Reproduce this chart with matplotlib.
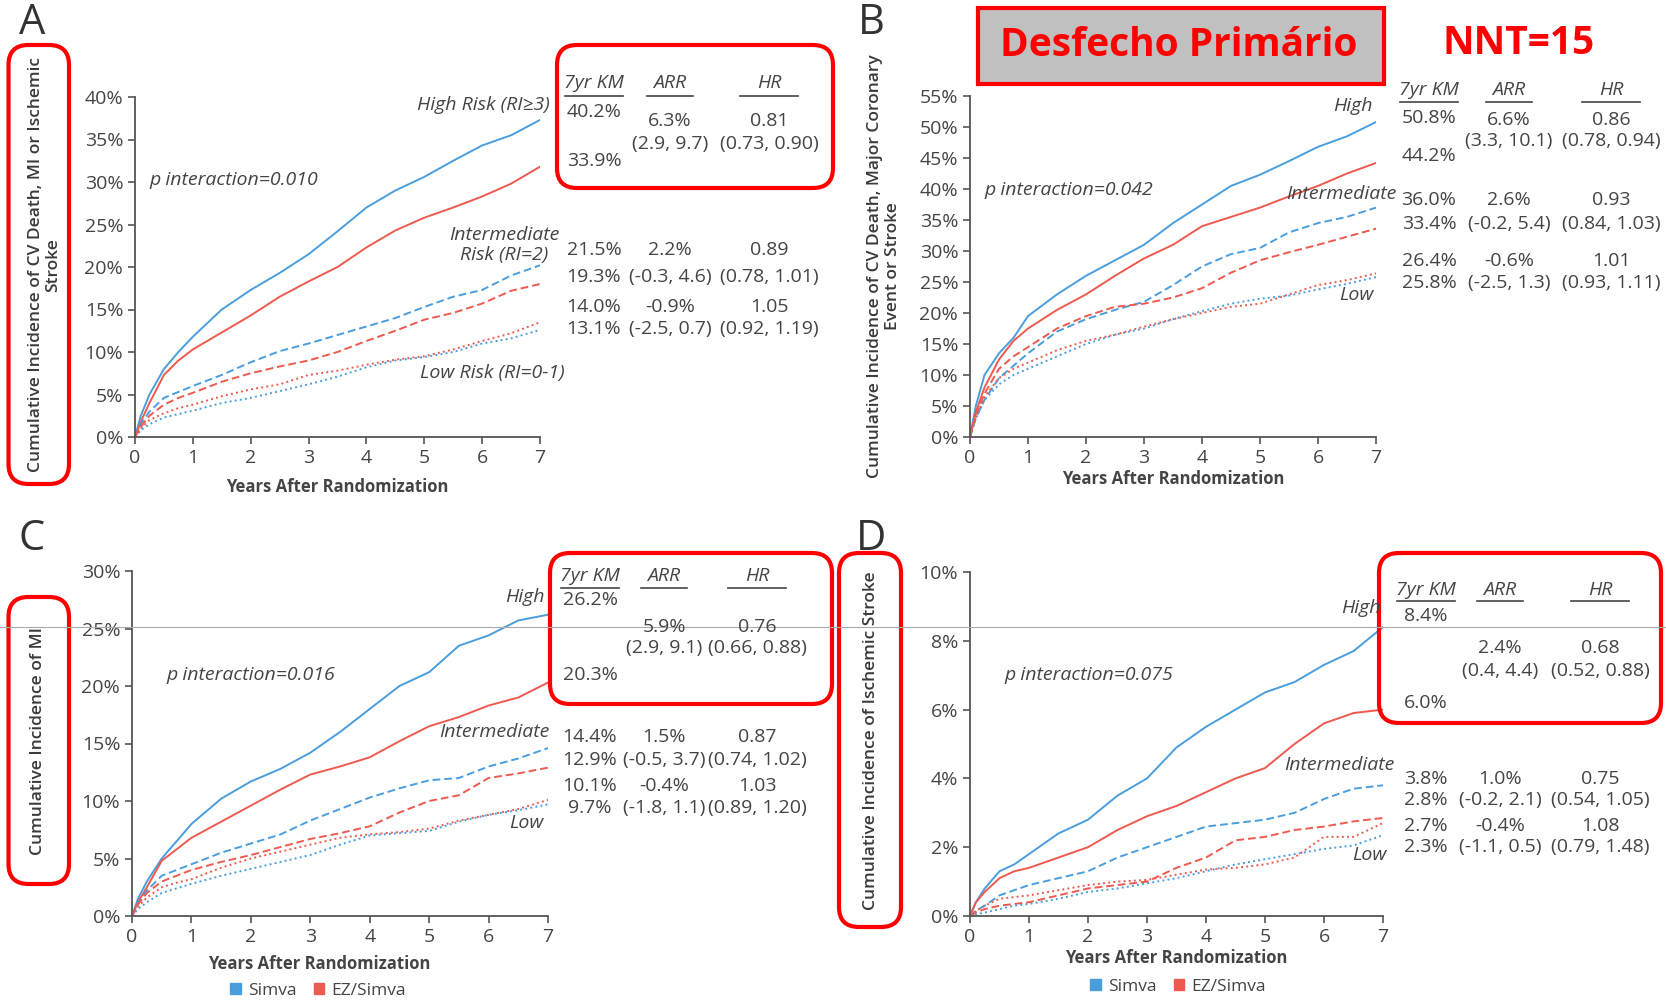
import numpy as np
import matplotlib
matplotlib.use("Agg")
import matplotlib.pyplot as plt
from matplotlib.patches import FancyBboxPatch, Rectangle, Patch
from matplotlib.lines import Line2D

plt.rcParams['font.family'] = ['Open Sans', 'DejaVu Sans']

W, H = 1666, 1002
BLUE = '#4a9ede'
RED = '#ee5a4f'
TXT = '#444444'

# years after randomization
t = [0, 0.1, 0.25, 0.5, 0.75, 1, 1.5, 2, 2.5, 3, 3.5, 4, 4.5, 5, 5.5, 6, 6.5, 7]

# A: CV death, MI or ischemic stroke (%)
a_hi_s = [0, 2.5, 5.0, 8.0, 10.0, 11.8, 15.0, 17.3, 19.3, 21.5, 24.2, 27.0, 29.0, 30.6, 32.5, 34.3, 35.5, 37.3]
a_hi_e = [0, 1.8, 4.0, 7.3, 9.0, 10.3, 12.3, 14.3, 16.5, 18.3, 20.0, 22.3, 24.3, 25.8, 27.0, 28.3, 29.8, 31.8]
a_int_s = [0, 1.5, 3.0, 4.6, 5.3, 6.0, 7.3, 8.8, 10.1, 11.0, 12.0, 13.0, 14.0, 15.3, 16.5, 17.3, 19.0, 20.2]
a_int_e = [0, 1.2, 2.5, 3.8, 4.6, 5.2, 6.5, 7.5, 8.3, 9.0, 10.0, 11.3, 12.5, 13.8, 14.6, 15.7, 17.2, 18.0]
a_low_s = [0, 0.8, 1.5, 2.3, 2.7, 3.1, 4.0, 4.6, 5.4, 6.2, 7.1, 8.2, 9.0, 9.4, 10.0, 11.0, 11.6, 12.6]
a_low_e = [0, 1.0, 2.0, 2.8, 3.4, 3.8, 4.8, 5.6, 6.2, 7.3, 7.8, 8.5, 9.1, 9.5, 10.3, 11.3, 12.2, 13.5]

# B: CV death, major coronary event or stroke (%)
b_hi_s = [0, 5.0, 10.0, 13.5, 16.0, 19.5, 23.0, 26.0, 28.5, 31.0, 34.5, 37.5, 40.5, 42.3, 44.5, 46.8, 48.5, 50.8]
b_hi_e = [0, 4.0, 8.0, 12.5, 15.5, 17.5, 20.5, 23.0, 26.0, 28.8, 31.0, 34.0, 35.5, 37.0, 38.8, 40.5, 42.5, 44.2]
b_int_s = [0, 3.0, 6.0, 9.5, 11.5, 13.5, 17.0, 19.0, 20.5, 21.8, 24.5, 27.5, 29.5, 30.5, 33.0, 34.5, 35.5, 37.0]
b_int_e = [0, 3.5, 7.0, 11.0, 13.0, 14.5, 17.5, 19.5, 21.0, 21.5, 22.5, 24.0, 26.5, 28.5, 29.8, 31.0, 32.3, 33.6]
b_low_s = [0, 3.0, 6.0, 8.5, 10.0, 11.0, 13.0, 15.0, 16.5, 17.5, 19.0, 20.3, 21.5, 22.3, 22.8, 23.8, 24.7, 25.8]
b_low_e = [0, 3.2, 6.5, 9.5, 11.0, 12.0, 14.0, 15.5, 16.5, 17.8, 19.0, 20.0, 21.0, 21.5, 23.0, 24.5, 25.3, 26.4]

# C: MI (%)
c_hi_s = [0, 1.5, 3.0, 5.0, 6.5, 8.0, 10.2, 11.7, 12.8, 14.2, 16.0, 18.0, 20.0, 21.2, 23.5, 24.4, 25.7, 26.2]
c_hi_e = [0, 1.2, 2.5, 4.8, 5.8, 6.8, 8.2, 9.6, 11.0, 12.3, 13.0, 13.8, 15.2, 16.5, 17.3, 18.3, 19.0, 20.3]
c_int_s = [0, 1.1, 2.2, 3.5, 4.0, 4.5, 5.5, 6.3, 7.1, 8.3, 9.3, 10.3, 11.1, 11.8, 12.0, 13.0, 13.7, 14.6]
c_int_e = [0, 1.0, 2.0, 3.0, 3.5, 4.0, 4.7, 5.3, 6.0, 6.7, 7.2, 7.8, 9.0, 10.0, 10.5, 12.0, 12.4, 12.9]
c_low_s = [0, 0.6, 1.2, 2.0, 2.4, 2.8, 3.5, 4.1, 4.7, 5.3, 6.2, 7.0, 7.2, 7.4, 8.2, 8.8, 9.2, 9.7]
c_low_e = [0, 0.8, 1.6, 2.5, 2.9, 3.2, 4.2, 5.0, 5.6, 6.2, 6.8, 7.1, 7.3, 7.6, 8.3, 8.8, 9.3, 10.1]

# D: ischemic stroke (%)
d_hi_s = [0, 0.4, 0.8, 1.3, 1.5, 1.8, 2.4, 2.8, 3.5, 4.0, 4.9, 5.5, 6.0, 6.5, 6.8, 7.3, 7.7, 8.4]
d_hi_e = [0, 0.4, 0.7, 1.1, 1.3, 1.4, 1.7, 2.0, 2.5, 2.9, 3.2, 3.6, 4.0, 4.3, 5.0, 5.6, 5.9, 6.0]
d_int_s = [0, 0.15, 0.3, 0.6, 0.75, 0.9, 1.1, 1.3, 1.7, 2.0, 2.3, 2.6, 2.7, 2.8, 3.0, 3.4, 3.7, 3.8]
d_int_e = [0, 0.1, 0.2, 0.3, 0.35, 0.4, 0.6, 0.8, 0.9, 1.0, 1.4, 1.7, 2.2, 2.3, 2.5, 2.6, 2.75, 2.85]
d_low_s = [0, 0.05, 0.1, 0.2, 0.3, 0.35, 0.5, 0.7, 0.8, 0.95, 1.1, 1.3, 1.5, 1.65, 1.8, 1.95, 2.05, 2.35]
d_low_e = [0, 0.15, 0.3, 0.5, 0.55, 0.6, 0.75, 0.9, 1.0, 1.05, 1.2, 1.35, 1.4, 1.5, 1.7, 2.3, 2.3, 2.7]

# tables (7yr KM, ARR, HR)
a_km = ['40.2%', '33.9%', '21.5%', '19.3%', '14.0%', '13.1%']
a_arr = ['6.3%', '(2.9, 9.7)', '2.2%', '(-0.3, 4.6)', '-0.9%', '(-2.5, 0.7)']
a_hr = ['0.81', '(0.73, 0.90)', '0.89', '(0.78, 1.01)', '1.05', '(0.92, 1.19)']
b_km = ['50.8%', '44.2%', '36.0%', '33.4%', '26.4%', '25.8%']
b_arr = ['6.6%', '(3.3, 10.1)', '2.6%', '(-0.2, 5.4)', '-0.6%', '(-2.5, 1.3)']
b_hr = ['0.86', '(0.78, 0.94)', '0.93', '(0.84, 1.03)', '1.01', '(0.93, 1.11)']
c_km = ['26.2%', '20.3%', '14.4%', '12.9%', '10.1%', '9.7%']
c_arr = ['5.9%', '(2.9, 9.1)', '1.5%', '(-0.5, 3.7)', '-0.4%', '(-1.8, 1.1)']
c_hr = ['0.76', '(0.66, 0.88)', '0.87', '(0.74, 1.02)', '1.03', '(0.89, 1.20)']
d_km = ['8.4%', '6.0%', '3.8%', '2.8%', '2.7%', '2.3%']
d_arr = ['2.4%', '(0.4, 4.4)', '1.0%', '(-0.2, 2.1)', '-0.4%', '(-1.1, 0.5)']
d_hr = ['0.68', '(0.52, 0.88)', '0.75', '(0.54, 1.05)', '1.08', '(0.79, 1.48)']

fig = plt.figure(figsize=(W / 100, H / 100), dpi=100)


def fx(x):
    return x / W


def fy(y):
    return 1 - y / H


def txt(x, y, s, **kw):
    kw.setdefault('color', TXT)
    kw.setdefault('ha', 'center')
    kw.setdefault('va', 'center')
    kw.setdefault('fontsize', 14)
    fig.text(fx(x), fy(y), s, **kw)


def rbox(x0, y0, x1, y1):
    fig.add_artist(FancyBboxPatch((x0 / 100, (H - y1) / 100), (x1 - x0) / 100, (y1 - y0) / 100,
                                  boxstyle='round,pad=0,rounding_size=0.2',
                                  transform=fig.dpi_scale_trans, fill=False,
                                  ec='#ff0000', lw=3))


def hline(x0, x1, y, color=TXT, lw=1.2):
    fig.add_artist(Line2D([fx(x0), fx(x1)], [fy(y), fy(y)], transform=fig.transFigure,
                          color=color, lw=lw))


def panel(box, top, step, series):
    l, r, tp, b = box
    ax = fig.add_axes([fx(l), fy(b), fx(r - l), (b - tp) / H])
    for ys, col, ls in series:
        ax.plot(t, ys, color=col, ls=ls, lw=1.4)
    ax.set_xlim(0, 7)
    ax.set_ylim(0, top)
    ax.set_xticks(range(8))
    ticks = np.arange(0, top + 0.01, step)
    ax.set_yticks(ticks)
    ax.set_yticklabels([f'{v:g}%' for v in ticks])
    for s in ['top', 'right']:
        ax.spines[s].set_visible(False)
    for s in ['left', 'bottom']:
        ax.spines[s].set_color('#555555')
        ax.spines[s].set_linewidth(1.3)
    ax.tick_params(direction='out', length=5, width=1.2, color='#555555',
                   labelcolor=TXT, labelsize=14)
    ax.patch.set_alpha(0)
    return ax


def series(hs, he, is_, ie, ls_, le):
    return [(hs, BLUE, '-'), (he, RED, '-'),
            (is_, BLUE, (0, (4, 2))), (ie, RED, (0, (4, 2))),
            (ls_, BLUE, ':'), (le, RED, ':')]


def table(xs, yh, yul, rows_y, km, arr, hr, km_y, fs=14):
    for x, s in zip(xs, ['7yr KM', 'ARR', 'HR']):
        txt(x, yh, s, style='italic', fontsize=fs)
        w = 58 if s != 'ARR' else 46
        hline(x - w / 2, x + w / 2, yul)
    for v, y in zip(km, km_y):
        txt(xs[0], y, v, fontsize=fs)
    for i, y in enumerate(rows_y):
        txt(xs[1], y, arr[i], fontsize=fs)
        txt(xs[2], y, hr[i], fontsize=fs)


YL = dict(rotation=90, fontsize=12.5, weight='semibold', linespacing=1.1, color='#3a3a3a')

# panel A
panel((135, 540, 97, 437), 40, 5, series(a_hi_s, a_hi_e, a_int_s, a_int_e, a_low_s, a_low_e))
txt(32, 23, 'A', fontsize=30, color='#333333')
rbox(8.5, 45, 69, 484)
txt(45, 265, 'Cumulative Incidence of CV Death, MI or Ischemic\nStroke', **YL)
txt(337, 487, 'Years After Randomization', fontsize=12, weight='bold')
txt(234, 180, 'p interaction=0.010', style='italic')
txt(550, 105, 'High Risk (RI≥3)', style='italic', ha='right')
txt(504, 245, 'Intermediate\nRisk (RI=2)', style='italic', linespacing=1.1)
txt(492, 373, 'Low Risk (RI=0-1)', style='italic')
rbox(557, 45, 833, 188)
table([594, 670, 769], 83, 96, [121, 144, 250, 277, 307, 329],
      a_km, a_arr, a_hr, [112, 161, 250, 277, 307, 329])

# panel B
panel((970, 1376, 96, 437), 55, 5, series(b_hi_s, b_hi_e, b_int_s, b_int_e, b_low_s, b_low_e))
txt(871, 23, 'B', fontsize=30, color='#333333')
fig.add_artist(Rectangle((fx(978), fy(84)), fx(1384 - 978), (84 - 8) / H,
                         transform=fig.transFigure, fc='#c0c0c0', ec='#ff0000', lw=3))
txt(1179, 46, 'Desfecho Primário', fontsize=28, weight='bold', color='#ff0000')
txt(1519, 44, 'NNT=15', fontsize=28, weight='bold', color='#ff0000')
txt(884, 266, 'Cumulative Incidence of CV Death, Major Coronary\nEvent or Stroke', **YL)
txt(1173, 479, 'Years After Randomization', fontsize=12, weight='bold')
txt(1069, 190, 'p interaction=0.042', style='italic')
txt(1373, 106, 'High', style='italic', ha='right')
txt(1341, 194, 'Intermediate', style='italic')
txt(1356, 295, 'Low', style='italic')
table([1429, 1509, 1611], 90, 102, [120, 141, 200, 224, 261, 283],
      b_km, b_arr, b_hr, [118, 156, 200, 224, 261, 283])

# panel C
panel((132, 548, 571, 916), 30, 5, series(c_hi_s, c_hi_e, c_int_s, c_int_e, c_low_s, c_low_e))
txt(32, 539, 'C', fontsize=30, color='#333333')
rbox(8.5, 597, 69, 884)
txt(38, 741, 'Cumulative Incidence of MI', **YL)
txt(319, 964, 'Years After Randomization', fontsize=12, weight='bold')
txt(251, 675, 'p interaction=0.016', style='italic')
txt(545, 597, 'High', style='italic', ha='right')
txt(550, 732, 'Intermediate', style='italic', ha='right')
txt(544, 823, 'Low', style='italic', ha='right')
rbox(550, 553, 832, 704)
table([590, 664, 757], 576, 588, [627, 648, 737, 760, 786, 808],
      c_km, c_arr, c_hr, [600, 675, 737, 760, 786, 808])

# panel D
panel((970, 1383, 572, 916), 10, 2, series(d_hi_s, d_hi_e, d_int_s, d_int_e, d_low_s, d_low_e))
txt(871, 539, 'D', fontsize=30, color='#333333')
rbox(839, 553, 901, 927)
txt(871, 741, 'Cumulative Incidence of Ischemic Stroke', **YL)
txt(1176, 958, 'Years After Randomization', fontsize=12, weight='bold')
txt(1089, 675, 'p interaction=0.075', style='italic')
txt(1381, 608, 'High', style='italic', ha='right')
txt(1395, 765, 'Intermediate', style='italic', ha='right')
txt(1387, 855, 'Low', style='italic', ha='right')
rbox(1379, 553, 1661, 723)
table([1426, 1500, 1600], 590, 601, [648, 671, 779, 800, 826, 847],
      d_km, d_arr, d_hr, [616, 703, 779, 800, 826, 847])

# thin grey rule across the lower panels
hline(0, W, 627, color='#aaaaaa', lw=0.8)

# legends
for cx, cy in [(318, 991), (1178, 987)]:
    fig.legend(handles=[Patch(color=BLUE, label='Simva'), Patch(color=RED, label='EZ/Simva')],
               loc='center', bbox_to_anchor=(fx(cx), fy(cy)), ncol=2, frameon=False,
               fontsize=12.5, handlelength=0.6, handleheight=0.6, handletextpad=0.4,
               columnspacing=1.0, labelcolor=TXT)

fig.savefig('out.png', dpi=100)
